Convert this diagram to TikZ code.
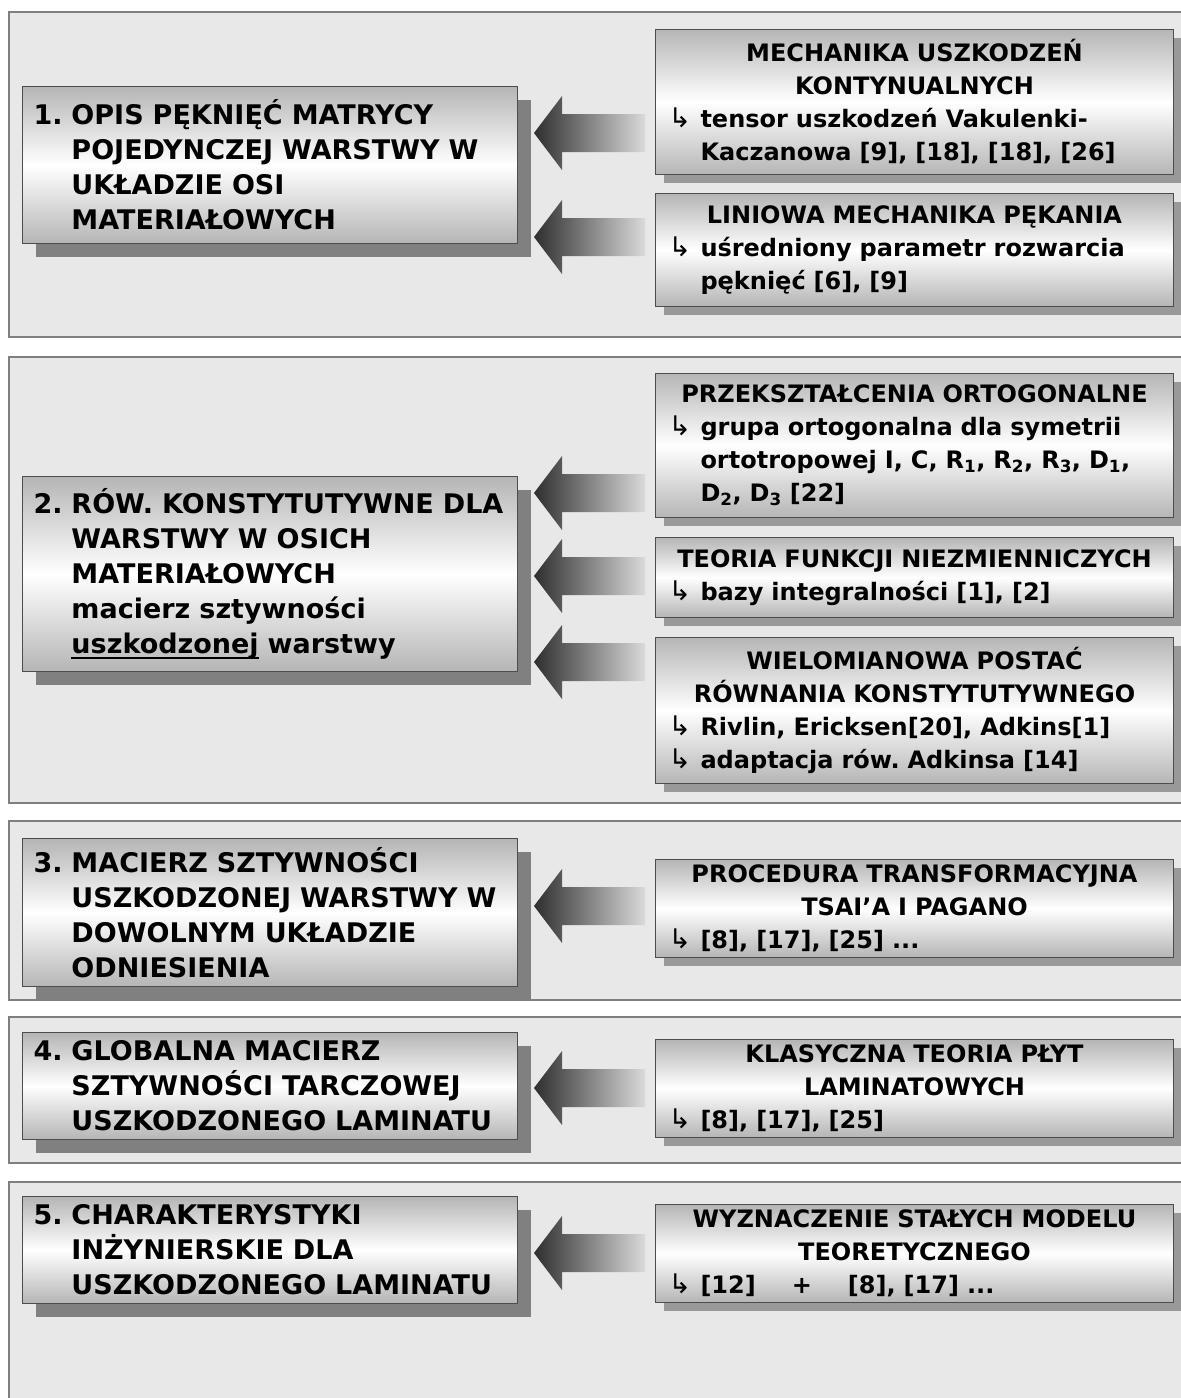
\documentclass[tikz,border=0pt]{standalone}
\usepackage{fontspec}
\setmainfont{DejaVu Sans}
\newfontfamily\symfont{DejaVu Sans}
\usepackage{tikz}
\usetikzlibrary{shadows}
\frenchspacing

\definecolor{panelgray}{HTML}{E8E8E8}
\definecolor{panelline}{HTML}{7F7F7F}
\definecolor{boxline}{HTML}{4D4D4D}
\definecolor{boxgray}{HTML}{B5B5B5}
\definecolor{lshadow}{HTML}{808080}
\definecolor{rshadow}{HTML}{999999}
\definecolor{arrowdark}{HTML}{2E2E2E}
\definecolor{arrowlight}{HTML}{DADADA}

\newlength\rtw
\setlength\rtw{500pt}
\newcommand\arr{{\symfont\mdseries\fontsize{27}{27}\selectfont ↳}}
\newcommand\nr[1]{\makebox[38pt][l]{#1}}
\newcommand\ind{\hspace*{38pt}}
\newcommand\itm[1]{\makebox[\rtw][l]{\hspace*{4pt}\makebox[32pt][l]{\arr}#1}}
\newcommand\cnt[1]{\makebox[\rtw][l]{\hspace*{36pt}#1}}
\newcommand\ul[1]{\setbox0\hbox{#1}\rlap{\rule[-5pt]{\wd0}{2pt}}\box0\relax}

\begin{document}
\begin{tikzpicture}[
		x = 1pt, y = -1pt,
		panel/.style = {fill=panelgray, draw=panelline, line width=1.3pt},
		lbox/.style = {draw=boxline, line width=1pt, anchor=north west,
			top color=boxgray, bottom color=boxgray, middle color=white,
			minimum width=495pt, text width=473pt, inner xsep=11pt, align=left,
			font=\bfseries\fontsize{27}{35}\selectfont,
			drop shadow={opacity=1, fill=lshadow, shadow xshift=13pt, shadow yshift=-13pt}},
		rbox/.style = {draw=boxline, line width=1pt, anchor=north west,
			top color=boxgray, bottom color=boxgray, middle color=white,
			minimum width=518pt, text width=\rtw, inner xsep=9pt, align=center,
			font=\bfseries\fontsize{24}{33}\selectfont,
			drop shadow={opacity=1, fill=rshadow, shadow xshift=8pt, shadow yshift=-8pt}},
		blockarrow/.style = {left color=arrowdark, right color=arrowlight}
	]

	\useasboundingbox (0,0) rectangle (1181,1398);
	\clip (0,0) rectangle (1181,1398);

	% panels
	\draw[panel] (9,12) rectangle (1200,337);
	\draw[panel] (9,357) rectangle (1200,803);
	\draw[panel] (9,821) rectangle (1200,1000);
	\draw[panel] (9,1017) rectangle (1200,1163);
	\draw[panel] (9,1182) rectangle (1200,1420);

	% left column
	\node[lbox, minimum height=157pt] (opis) at (22,86)
		{\nr{1.}OPIS PĘKNIĘĆ MATRYCY\\ \ind POJEDYNCZEJ WARSTWY W\\ \ind UKŁADZIE OSI\\ \ind MATERIAŁOWYCH};
	\node[lbox, minimum height=195pt] (rownania) at (22,476)
		{\nr{2.}RÓW. KONSTYTUTYWNE DLA\\ \ind WARSTWY W OSICH\\ \ind MATERIAŁOWYCH\\ \ind macierz sztywności\\ \ind\ul{uszkodzonej} warstwy};
	\node[lbox, minimum height=148pt] (macierz) at (22,838)
		{\nr{3.}MACIERZ SZTYWNOŚCI\\ \ind USZKODZONEJ WARSTWY W\\ \ind DOWOLNYM UKŁADZIE\\ \ind ODNIESIENIA};
	\node[lbox, minimum height=107pt] (globalna) at (22,1032)
		{\nr{4.}GLOBALNA MACIERZ\\ \ind SZTYWNOŚCI TARCZOWEJ\\ \ind USZKODZONEGO LAMINATU};
	\node[lbox, minimum height=107pt] (charakt) at (22,1196)
		{\nr{5.}CHARAKTERYSTYKI\\ \ind INŻYNIERSKIE DLA\\ \ind USZKODZONEGO LAMINATU};

	% right column
	\node[rbox, minimum height=145pt] (muk) at (655,29)
		{MECHANIKA USZKODZEŃ\\ KONTYNUALNYCH\\ \itm{tensor uszkodzeń Vakulenki-}\\ \cnt{Kaczanowa [9], [18], [18], [26]}};
	\node[rbox, minimum height=113pt] (lmp) at (655,193)
		{LINIOWA MECHANIKA PĘKANIA\\ \itm{uśredniony parametr rozwarcia}\\ \cnt{pęknięć [6], [9]}};
	\node[rbox, minimum height=144pt] (przeksz) at (655,373)
		{PRZEKSZTAŁCENIA ORTOGONALNE\\ \itm{grupa ortogonalna dla symetrii}\\
		 \cnt{ortotropowej I, C, R\textsubscript{1}, R\textsubscript{2}, R\textsubscript{3}, D\textsubscript{1},}\\
		 \cnt{D\textsubscript{2}, D\textsubscript{3} [22]}};
	\node[rbox, minimum height=80pt] (teoria) at (655,537)
		{TEORIA FUNKCJI NIEZMIENNICZYCH\\ \itm{bazy integralności [1], [2]}};
	\node[rbox, minimum height=146pt] (wielomian) at (655,637)
		{WIELOMIANOWA POSTAĆ\\ RÓWNANIA KONSTYTUTYWNEGO\\ \itm{Rivlin, Ericksen[20], Adkins[1]}\\ \itm{adaptacja rów. Adkinsa [14]}};
	\node[rbox, minimum height=98pt] (procedura) at (655,859)
		{PROCEDURA TRANSFORMACYJNA\\ TSAI’A I PAGANO\\ \itm{[8], [17], [25] ...}};
	\node[rbox, minimum height=98pt] (klasyczna) at (655,1039)
		{KLASYCZNA TEORIA PŁYT\\ LAMINATOWYCH\\ \itm{[8], [17], [25]}};
	\node[rbox, minimum height=98pt] (wyznacz) at (655,1204)
		{WYZNACZENIE STAŁYCH MODELU\\ TEORETYCZNEGO\\ \itm{[12]\hspace{1.5em}+\hspace{1.5em}[8], [17] ...}};

	% block arrows: tip y / head half / shaft half
	\foreach \ay in {133, 237, 493, 576, 662, 906, 1088, 1253}
		\path[blockarrow] (534,\ay) -- (562,{\ay-37}) -- (562,{\ay-19}) -- (645,{\ay-19})
			-- (645,{\ay+19}) -- (562,{\ay+19}) -- (562,{\ay+37}) -- cycle;

\end{tikzpicture}
\end{document}
